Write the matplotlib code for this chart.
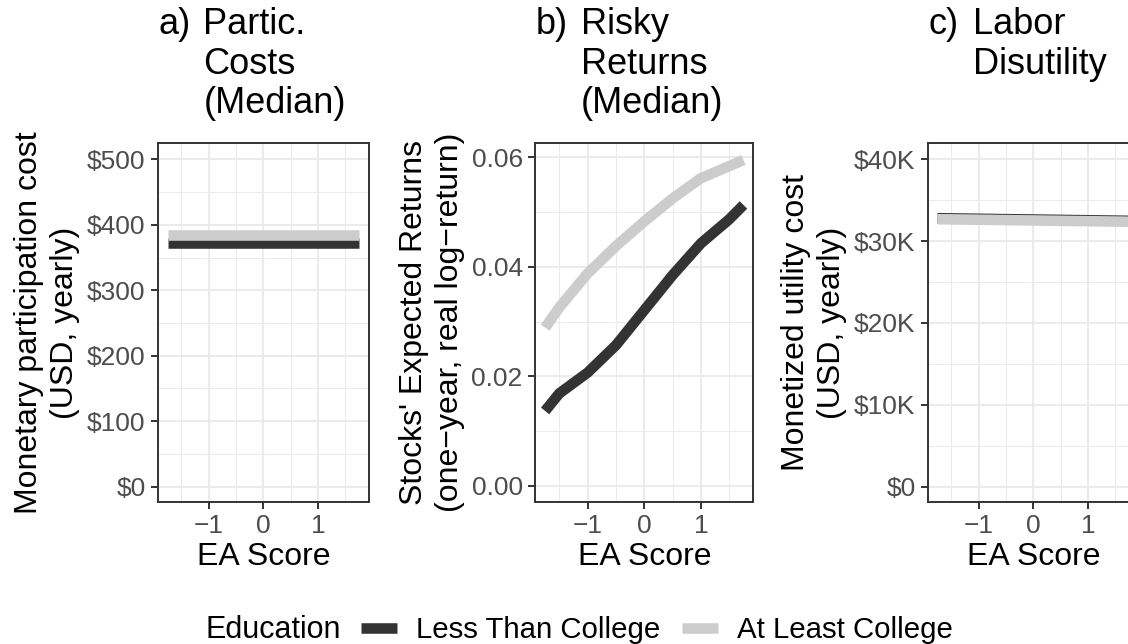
import numpy as np
import matplotlib.pyplot as plt
from matplotlib.lines import Line2D
from matplotlib.ticker import FuncFormatter, MultipleLocator

plt.rcParams['font.family'] = ['Liberation Sans', 'DejaVu Sans']

# EA score grid and values
ea_flat = [-1.75, 1.75]
ea_b = [-1.75, -1.5, -1.0, -0.5, 0.0, 0.5, 1.0, 1.5, 1.75]

# a) participation costs (USD)
cost_less = [372, 372]
cost_coll = [385, 385]

# b) expected returns
ret_less = [0.0137, 0.0169, 0.0207, 0.0257, 0.0321, 0.0385, 0.0443, 0.0487, 0.0513]
ret_coll = [0.0289, 0.0326, 0.0388, 0.0438, 0.0483, 0.0525, 0.0562, 0.0584, 0.0595]

# c) labor disutility (USD)
labor_less = [32800, 32480]
labor_coll = [32680, 32370]

groups = ['Less Than College', 'At Least College']
colors = ['#333333', '#CCCCCC']

W, H = 1128, 644
fig = plt.figure(figsize=(W / 100, H / 100), dpi=100)

top, bottom = 143.3, 501.7


def make_ax(left, width):
    return fig.add_axes([left / W, (H - bottom) / H, width / W, (bottom - top) / H])


ax_a = make_ax(158, 210.6)
ax_b = make_ax(535.2, 218.2)
ax_c = make_ax(928, 210.6)

lw = 7.6
for ax in (ax_a, ax_b, ax_c):
    ax.set_facecolor('white')
    ax.set_xlim(-1.925, 1.925)
    ax.xaxis.set_major_locator(MultipleLocator(1))
    ax.xaxis.set_minor_locator(MultipleLocator(0.5))
    ax.grid(which='major', color='#EBEBEB', lw=1.5)
    ax.grid(which='minor', color='#EBEBEB', lw=0.75)
    ax.set_axisbelow(True)
    for s in ax.spines.values():
        s.set_color('#333333')
        s.set_linewidth(1.4)
    ax.tick_params(which='major', length=5, width=1.4, color='#333333',
                   labelsize=19, labelcolor='#4D4D4D', pad=4)
    ax.tick_params(which='minor', length=0)
    ax.set_xlabel('EA Score', fontsize=23, labelpad=3)

ylab_kw = dict(fontsize=23, labelpad=5, linespacing=1.25)

# panel a
ax_a.plot(ea_flat, cost_less, color=colors[0], lw=lw, solid_capstyle='butt')
ax_a.plot(ea_flat, cost_coll, color=colors[1], lw=lw, solid_capstyle='butt')
ax_a.set_ylim(-23, 524.5)
ax_a.yaxis.set_major_locator(MultipleLocator(100))
ax_a.yaxis.set_minor_locator(MultipleLocator(50))
ax_a.yaxis.set_major_formatter(FuncFormatter(lambda v, p: f'${v:.0f}'))
ax_a.set_ylabel('Monetary participation cost\n(USD, yearly)', **ylab_kw)

# panel b
ax_b.plot(ea_b, ret_less, color=colors[0], lw=lw, solid_capstyle='butt')
ax_b.plot(ea_b, ret_coll, color=colors[1], lw=lw, solid_capstyle='butt')
ax_b.set_ylim(-0.00287, 0.06256)
ax_b.yaxis.set_major_locator(MultipleLocator(0.02))
ax_b.yaxis.set_minor_locator(MultipleLocator(0.01))
ax_b.yaxis.set_major_formatter(FuncFormatter(lambda v, p: f'{v:.2f}'))
ax_b.set_ylabel('Stocks\' Expected Returns\n(one\u2212year, real log\u2212return)', **ylab_kw)

# panel c
ax_c.plot(ea_flat, labor_less, color=colors[0], lw=lw, solid_capstyle='butt')
ax_c.plot(ea_flat, labor_coll, color=colors[1], lw=lw, solid_capstyle='butt')
ax_c.set_ylim(-1830, 41950)
ax_c.yaxis.set_major_locator(MultipleLocator(10000))
ax_c.yaxis.set_minor_locator(MultipleLocator(5000))
ax_c.yaxis.set_major_formatter(FuncFormatter(
    lambda v, p: '$0' if v == 0 else f'${v / 1000:.0f}K'))
ax_c.set_ylabel('Monetized utility cost\n(USD, yearly)', **ylab_kw)

# titles, hanging indent after the letter
titles = [(158.3, 'a)', 'Partic.\nCosts\n(Median)'),
          (535.5, 'b)', 'Risky\nReturns\n(Median)'),
          (928.5, 'c)', 'Labor\nDisutility')]
for x0, tag, body in titles:
    fig.text(x0 / W, 1 - 7 / H, tag, fontsize=26, va='top', ha='left')
    fig.text((x0 + 45) / W, 1 - 7 / H, body, fontsize=26, va='top',
             ha='left', linespacing=1.17)

# legend
fig.text(205 / W, 1 - 638 / H, 'Education', fontsize=22, va='baseline', ha='left')
handles = [Line2D([], [], color=c, lw=lw, solid_capstyle='butt') for c in colors]
fig.legend(handles, groups, loc='center left', bbox_to_anchor=(361 / W, 1 - 630.5 / H),
           ncol=2, frameon=False, fontsize=21.2, handlelength=1.22,
           handletextpad=0.65, columnspacing=0.74, borderpad=0, borderaxespad=0)

fig.savefig('out.png', dpi=100)
